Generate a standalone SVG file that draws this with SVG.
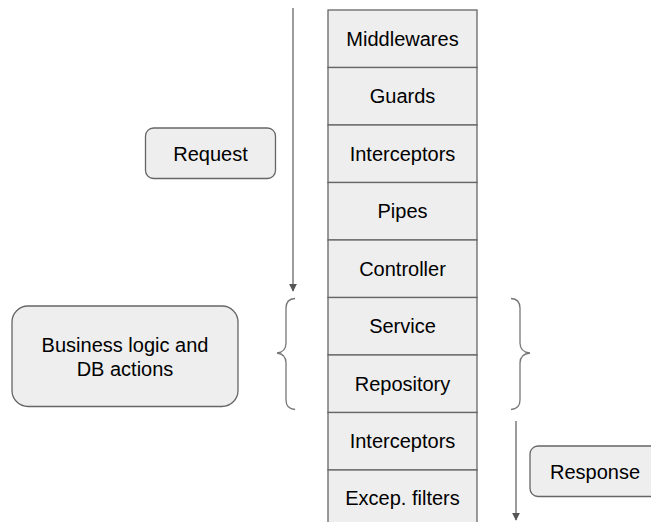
<svg xmlns="http://www.w3.org/2000/svg" width="651" height="522" viewBox="0 0 651 522">
  <style>
    .cell { fill: #eeeeee; stroke: #666666; stroke-width: 1.3; }
    .box { fill: #eeeeee; stroke: #666666; stroke-width: 1.3; }
    .lbl { font-family: "Liberation Sans", Arial, sans-serif; font-size: 20px; fill: #000000; text-anchor: middle; dominant-baseline: central; }
    .line { stroke: #666666; stroke-width: 1.3; fill: none; }
    .brace { stroke: #777777; stroke-width: 1.3; fill: none; }
  </style>
  <defs>
    <marker id="arrow" viewBox="0 0 10 10" refX="9" refY="5" markerWidth="8" markerHeight="8" markerUnits="userSpaceOnUse" orient="auto">
      <path d="M0,0 L10,5 L0,10 z" fill="#555555"/>
    </marker>
  </defs>

  <rect width="651" height="522" fill="#ffffff"/>

  <!-- lifecycle stack -->
  <g id="middlewares"><rect class="cell" x="328" y="10" width="149" height="57.5"/><text class="lbl" x="402.5" y="39">Middlewares</text></g>
  <g id="guards"><rect class="cell" x="328" y="67.5" width="149" height="57.5"/><text class="lbl" x="402.5" y="96">Guards</text></g>
  <g id="interceptors-in"><rect class="cell" x="328" y="125" width="149" height="57.5"/><text class="lbl" x="402.5" y="154">Interceptors</text></g>
  <g id="pipes"><rect class="cell" x="328" y="182.5" width="149" height="57.5"/><text class="lbl" x="402.5" y="211">Pipes</text></g>
  <g id="controller"><rect class="cell" x="328" y="240" width="149" height="57.5"/><text class="lbl" x="402.5" y="268.5">Controller</text></g>
  <g id="service"><rect class="cell" x="328" y="297.5" width="149" height="57.5"/><text class="lbl" x="402.5" y="326">Service</text></g>
  <g id="repository"><rect class="cell" x="328" y="355" width="149" height="57.5"/><text class="lbl" x="402.5" y="383.5">Repository</text></g>
  <g id="interceptors-out"><rect class="cell" x="328" y="412.5" width="149" height="57.5"/><text class="lbl" x="402.5" y="441">Interceptors</text></g>
  <g id="exception-filters"><rect class="cell" x="328" y="470" width="149" height="57.5"/><text class="lbl" x="402.5" y="498">Excep. filters</text></g>

  <!-- side labels -->
  <g id="request"><rect class="box" x="145.5" y="128" width="130" height="50.5" rx="8"/><text class="lbl" x="210.5" y="153.5">Request</text></g>
  <g id="business"><rect class="box" x="12" y="306" width="226" height="100.5" rx="16"/><text class="lbl" x="125" y="345">Business logic and</text><text class="lbl" x="125" y="369">DB actions</text></g>
  <g id="response"><rect class="box" x="530" y="446" width="130" height="50.5" rx="8"/><text class="lbl" x="595" y="472">Response</text></g>

  <!-- connectors -->
  <g id="connectors">
    <line class="line" x1="293" y1="8" x2="293" y2="291" marker-end="url(#arrow)"/>
    <line class="line" x1="516" y1="421" x2="516" y2="520" marker-end="url(#arrow)"/>
    <path class="brace" d="M295,298.5 Q286,299 286,308 L286,343 Q286,352 277,353 Q286,354 286,363 L286,400 Q286,409 295,409.5"/>
    <path class="brace" d="M511,298.5 Q520,299 520,308 L520,343 Q520,352 530,353 Q520,354 520,363 L520,400 Q520,409 511,409.5"/>
  </g>
</svg>
